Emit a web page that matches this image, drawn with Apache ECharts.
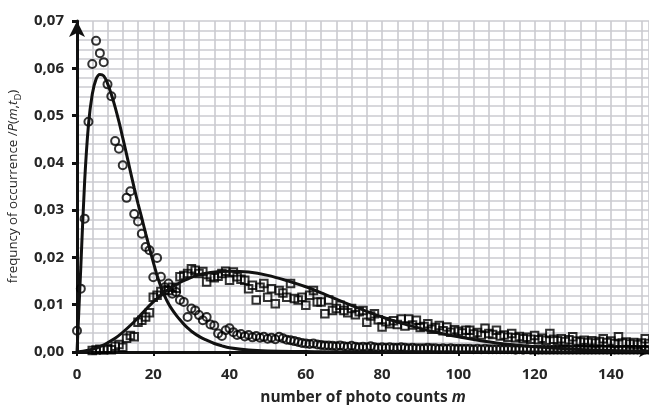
<!DOCTYPE html>
<html>
<head>
<meta charset="utf-8">
<script src="https://cdn.jsdelivr.net/npm/echarts@6/dist/echarts.min.js"></script>
<style>
  html, body { margin: 0; padding: 0; background: #fff; }
  #chart { width: 649px; height: 405px; }
</style>
</head>
<body>
<div id="chart"></div>
<script>
// Measured frequency of occurrence, circles: one value per m starting at m = 0
const circleStart = 0;
const circleVals = [
  0.0045, 0.0134, 0.0282, 0.0487, 0.0609, 0.0658, 0.0632, 0.0613, 0.0566, 0.0541,
  0.0446, 0.0430, 0.0395, 0.0326, 0.0340, 0.0292, 0.0276, 0.0250, 0.0222, 0.0215,
  0.0158, 0.0199, 0.0159, 0.0137, 0.0145, 0.0123, 0.0127, 0.0110, 0.0106, 0.0074,
  0.0092, 0.0088, 0.0078, 0.0067, 0.0074, 0.0058, 0.0056, 0.0039, 0.0034, 0.0046,
  0.0050, 0.0042, 0.0036, 0.0038, 0.0033, 0.0036, 0.0031, 0.0034, 0.0030, 0.0032,
  0.0028, 0.0030, 0.0027, 0.0032, 0.0029, 0.0026, 0.0025, 0.0023, 0.0021, 0.0019,
  0.0018, 0.0017, 0.0018, 0.0016, 0.0015, 0.0014, 0.0014, 0.0013, 0.0012, 0.0014,
  0.0012, 0.0011, 0.0013, 0.0011, 0.0010, 0.0011, 0.0010, 0.0012, 0.0010, 0.0009,
  0.0010, 0.0009, 0.0010, 0.0009, 0.0009, 0.0010, 0.0009, 0.0008, 0.0009, 0.0008,
  0.0008, 0.0008, 0.0009, 0.0008, 0.0008, 0.0007, 0.0008, 0.0007, 0.0008, 0.0007,
  0.0007, 0.0007, 0.0007, 0.0007, 0.0006, 0.0007, 0.0006, 0.0007, 0.0006, 0.0006,
  0.0006, 0.0006, 0.0006, 0.0006, 0.0006, 0.0005, 0.0006, 0.0005, 0.0006, 0.0005,
  0.0005, 0.0005, 0.0005, 0.0005, 0.0005, 0.0005, 0.0005, 0.0005, 0.0005, 0.0005,
  0.0005, 0.0005, 0.0005, 0.0005, 0.0005, 0.0005, 0.0005, 0.0005, 0.0005, 0.0005,
  0.0005, 0.0005, 0.0005, 0.0005, 0.0005, 0.0005, 0.0005, 0.0005, 0.0005, 0.0005,
  0.0005
];

// Measured frequency of occurrence, squares: one value per m starting at m = 4
const squareStart = 4;
const squareVals = [
  0.0003, 0.0004, 0.0006, 0.0004, 0.0007, 0.0005,
  0.0012, 0.0016, 0.0010, 0.0029, 0.0035, 0.0032, 0.0063, 0.0067, 0.0074, 0.0083,
  0.0116, 0.0120, 0.0128, 0.0131, 0.0130, 0.0137, 0.0135, 0.0159, 0.0162, 0.0166,
  0.0176, 0.0173, 0.0166, 0.0170, 0.0148, 0.0159, 0.0157, 0.0160, 0.0166, 0.0171,
  0.0152, 0.0169, 0.0159, 0.0154, 0.0152, 0.0134, 0.0141, 0.0110, 0.0137, 0.0145,
  0.0116, 0.0134, 0.0102, 0.0130, 0.0125, 0.0116, 0.0145, 0.0113, 0.0110, 0.0116,
  0.0099, 0.0120, 0.0130, 0.0106, 0.0106, 0.0081, 0.0110, 0.0088, 0.0092, 0.0099,
  0.0088, 0.0083, 0.0092, 0.0079, 0.0085, 0.0088, 0.0063, 0.0076, 0.0081, 0.0068,
  0.0053, 0.0064, 0.0060, 0.0066, 0.0058, 0.0070, 0.0055, 0.0070, 0.0057, 0.0067,
  0.0052, 0.0054, 0.0060, 0.0048, 0.0052, 0.0056, 0.0045, 0.0053, 0.0042, 0.0047,
  0.0044, 0.0040, 0.0046, 0.0046, 0.0038, 0.0041, 0.0036, 0.0050, 0.0039, 0.0037,
  0.0046, 0.0034, 0.0036, 0.0031, 0.0039, 0.0030, 0.0033, 0.0028, 0.0031, 0.0027,
  0.0035, 0.0026, 0.0029, 0.0025, 0.0039, 0.0027, 0.0024, 0.0028, 0.0022, 0.0026,
  0.0032, 0.0023, 0.0021, 0.0025, 0.0020, 0.0024, 0.0019, 0.0022, 0.0028, 0.0020,
  0.0023, 0.0018, 0.0032, 0.0019, 0.0021, 0.0017, 0.0020, 0.0016, 0.0019, 0.0028,
  0.0018
];

// Theoretical distribution P(m, tD), narrow curve
const fitAm = [0, 1, 2, 3, 4, 5, 6, 7, 8, 9, 10, 11, 12, 13, 14, 15, 16, 17, 18, 19,
  20, 21, 22, 23, 24, 25, 26, 27, 28, 29, 30, 32, 34, 36, 38, 40, 45, 50, 60, 70, 80, 100, 120, 150];
const fitAv = [0, 0.0180, 0.0360, 0.0480, 0.0545, 0.0577, 0.0587, 0.0584, 0.0568, 0.0545,
  0.0518, 0.0487, 0.0453, 0.0418, 0.0382, 0.0347, 0.0314, 0.0283, 0.0251, 0.0220,
  0.0190, 0.0162, 0.0138, 0.0118, 0.0102, 0.0089, 0.0078, 0.0068, 0.0059, 0.0051,
  0.0044, 0.0033, 0.0025, 0.0018, 0.0013, 0.0009, 0.0004, 0.0002, 0.0001, 0, 0, 0, 0, 0];

// Theoretical distribution P(m, tD), broad curve
const fitBm = [0, 5, 10, 15, 20, 25, 30, 35, 40, 45, 50, 55, 60, 65, 70, 75, 80, 85, 90, 95,
  100, 110, 120, 130, 140, 150];
const fitBv = [0, 0.0008, 0.0029, 0.0064, 0.0106, 0.0138, 0.0158, 0.0168, 0.0171, 0.0169,
  0.0162, 0.0151, 0.0138, 0.0122, 0.0105, 0.0089, 0.0074, 0.0061, 0.0050, 0.0040,
  0.0032, 0.0019, 0.0011, 0.0006, 0.0003, 0.0002];

// Axis ticks
const xMin = 0, xMax = 150, xStep = 20, xMinorStep = 4;
const yMin = 0, yMax = 0.07, yStep = 0.01, yMinorStep = 0.002;

const toPairs = (start, vals) => vals.map((v, i) => [start + i, v]);
const zip = (xs, ys) => xs.map((x, i) => [x, ys[i]]);

const FONT = '"Open Sans", "DejaVu Sans", sans-serif';
const INK = '#262626';
const GRID = '#cbcbd0';

const chart = echarts.init(document.getElementById('chart'), null, { renderer: 'canvas' });

chart.setOption({
  animation: false,
  backgroundColor: '#ffffff',
  grid: { left: 77, right: 0, top: 21, bottom: 53, containLabel: false, outerBoundsMode: 'none' },
  xAxis: [
    {
      type: 'value', min: xMin, max: xMax, interval: xStep,
      name: '{b|number of photo counts }{bi|m}',
      nameLocation: 'middle', nameGap: 38,
      nameTextStyle: {
        rich: {
          b: { fontFamily: FONT, fontSize: 15.5, fontWeight: 'bold', color: INK },
          bi: { fontFamily: FONT, fontSize: 15.5, fontWeight: 'bold', fontStyle: 'italic', color: INK }
        }
      },
      axisLine: {
        show: true, onZero: false,
        lineStyle: { color: '#111', width: 3 },
        symbol: ['none', 'arrow'], symbolSize: [8, 10]
      },
      axisTick: { show: true, inside: false, length: 4, lineStyle: { color: '#111', width: 2 } },
      axisLabel: {
        margin: 15, fontFamily: FONT, fontSize: 15, fontWeight: 'bold', color: INK,
        showMaxLabel: false
      },
      splitLine: { show: false }
    },
    {
      type: 'value', min: xMin, max: xMax, interval: xMinorStep,
      axisLine: { show: false }, axisTick: { show: false }, axisLabel: { show: false },
      splitLine: { show: true, lineStyle: { color: GRID, width: 1.6 } }
    }
  ],
  yAxis: [
    {
      type: 'value', min: yMin, max: yMax, interval: yStep,
      name: '{a|frequncy of occurrence /}{i|P}{a|(}{i|m}{a|,}{i|t}{s|D}{a|)}',
      nameLocation: 'middle', nameGap: 48, nameRotate: 90,
      nameTextStyle: {
        rich: {
          a: { fontFamily: FONT, fontSize: 13.3, color: INK, lineHeight: 20 },
          i: { fontFamily: FONT, fontSize: 13.3, fontStyle: 'italic', color: INK, lineHeight: 20 },
          s: { fontFamily: FONT, fontSize: 9.5, color: INK, lineHeight: 11, verticalAlign: 'bottom' }
        }
      },
      axisLine: {
        show: true, onZero: false,
        lineStyle: { color: '#111', width: 3 },
        symbol: ['none', 'arrow'], symbolSize: [12, 16]
      },
      axisTick: { show: true, inside: false, length: 5, lineStyle: { color: '#111', width: 3 } },
      axisLabel: {
        margin: 13, fontFamily: FONT, fontSize: 15, fontWeight: 'bold', color: INK,
        formatter: v => v.toFixed(2).replace('.', ',')
      },
      splitLine: { show: false }
    },
    {
      type: 'value', min: yMin, max: yMax, interval: yMinorStep,
      axisLine: { show: false }, axisTick: { show: false }, axisLabel: { show: false },
      splitLine: { show: true, lineStyle: { color: GRID, width: 1.6 } }
    }
  ],
  series: [
    {
      name: 'circles', type: 'scatter', xAxisIndex: 0, yAxisIndex: 0,
      data: toPairs(circleStart, circleVals),
      symbol: 'circle', symbolSize: 8,
      itemStyle: { color: 'rgba(0,0,0,0)', borderColor: '#000', borderWidth: 2 },
      z: 3
    },
    {
      name: 'squares', type: 'scatter', xAxisIndex: 0, yAxisIndex: 0,
      data: toPairs(squareStart, squareVals),
      symbol: 'rect', symbolSize: 7.5,
      itemStyle: { color: 'rgba(0,0,0,0)', borderColor: '#000', borderWidth: 2 },
      z: 3
    },
    {
      name: 'fitA', type: 'line', xAxisIndex: 0, yAxisIndex: 0,
      data: zip(fitAm, fitAv), smooth: 0.35, showSymbol: false,
      lineStyle: { color: '#111', width: 3 }, z: 4
    },
    {
      name: 'fitB', type: 'line', xAxisIndex: 0, yAxisIndex: 0,
      data: zip(fitBm, fitBv), smooth: 0.35, showSymbol: false,
      lineStyle: { color: '#111', width: 3 }, z: 4
    }
  ]
});
</script>
</body>
</html>
